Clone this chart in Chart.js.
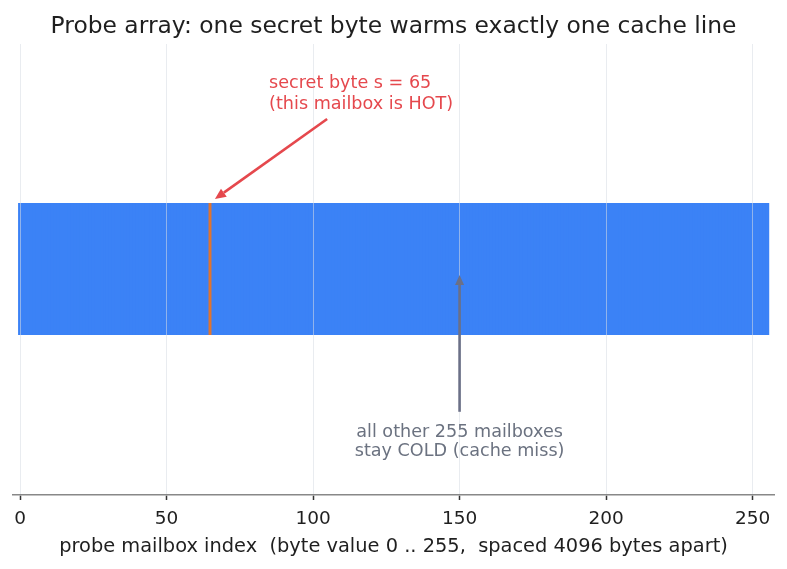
<!DOCTYPE html>
<html lang="en">
<head>
  <meta charset="UTF-8">
  <title>Probe array</title>
  <script src="https://cdn.jsdelivr.net/npm/chart.js"></script>
  <style>
    body { margin: 0; background: #fff; }
    canvas { display: block; }
  </style>
</head>
<body>
  <canvas id="grafico" width="787" height="569"></canvas>

<script>
  // dados
  const mailboxIndex = Array.from({ length: 256 }, (_, i) => i);   // 0 .. 255
  const secretByte = 65;
  const bandHeight = mailboxIndex.map(() => 1);                      // cada mailbox = 1 faixa
  const tickValues = [0, 50, 100, 150, 200, 250];

  const titulo = 'Probe array: one secret byte warms exactly one cache line';
  const tituloEixoX = 'probe mailbox index  (byte value 0 .. 255,  spaced 4096 bytes apart)';
  const notaQuente = ['secret byte s = 65', '(this mailbox is HOT)'];
  const notaFria = ['all other 255 mailboxes', 'stay COLD (cache miss)'];

  const AZUL = '#3b82f6';
  const LARANJA = '#e0742f';
  const VERMELHO = '#e5484d';
  const CINZA = '#6b7280';

  const fonte = "'DejaVu Sans', sans-serif";

  function seta(ctx, x1, y1, x2, y2, cor, larg, cab) {
    const ang = Math.atan2(y2 - y1, x2 - x1);
    const bx = x2 - cab * Math.cos(ang);
    const by = y2 - cab * Math.sin(ang);
    ctx.save();
    ctx.strokeStyle = cor;
    ctx.fillStyle = cor;
    ctx.lineWidth = larg;
    ctx.beginPath();
    ctx.moveTo(x1, y1);
    ctx.lineTo(bx, by);
    ctx.stroke();
    ctx.beginPath();
    ctx.moveTo(x2, y2);
    ctx.lineTo(bx + cab * 0.45 * Math.sin(ang), by - cab * 0.45 * Math.cos(ang));
    ctx.lineTo(bx - cab * 0.45 * Math.sin(ang), by + cab * 0.45 * Math.cos(ang));
    ctx.closePath();
    ctx.fill();
    ctx.restore();
  }

  // textos e setas por cima da grade
  const anotacoes = {
    id: 'anotacoes',
    afterDraw(chart) {
      const ctx = chart.ctx;
      const x = chart.scales.x;
      const y = chart.scales.y;

      // HOT
      ctx.save();
      ctx.font = '17.6px ' + fonte;
      ctx.fillStyle = VERMELHO;
      ctx.textAlign = 'left';
      ctx.textBaseline = 'middle';
      ctx.fillText(notaQuente[0], x.getPixelForValue(85), y.getPixelForValue(1.915));
      ctx.fillText(notaQuente[1], x.getPixelForValue(85), y.getPixelForValue(1.76));
      ctx.restore();
      seta(ctx, x.getPixelForValue(104.8), y.getPixelForValue(1.645),
        x.getPixelForValue(66.5), y.getPixelForValue(1.034), VERMELHO, 2.6, 11);

      // COLD
      ctx.save();
      ctx.font = '17.6px ' + fonte;
      ctx.fillStyle = CINZA;
      ctx.textAlign = 'center';
      ctx.textBaseline = 'middle';
      ctx.fillText(notaFria[0], x.getPixelForValue(150), y.getPixelForValue(-0.748));
      ctx.fillText(notaFria[1], x.getPixelForValue(150), y.getPixelForValue(-0.896));
      ctx.restore();
      seta(ctx, x.getPixelForValue(150), y.getPixelForValue(-0.59),
        x.getPixelForValue(150), y.getPixelForValue(0.454), '#6b7087', 2.6, 10);
    }
  };

  new Chart(document.getElementById('grafico'), {
    type: 'bar',
    data: {
      datasets: [{
        data: mailboxIndex.map((i) => ({ x: i, y: bandHeight[i] })),
        backgroundColor: mailboxIndex.map((i) => i === secretByte ? LARANJA : AZUL),
        borderWidth: 0,
        inflateAmount: 0.5,
        barPercentage: 1,
        categoryPercentage: 1
      }]
    },
    options: {
      responsive: false,
      animation: false,
      layout: { padding: { left: 13, right: 13, top: 0, bottom: 14 } },
      plugins: {
        legend: { display: false },
        tooltip: { enabled: false },
        title: {
          display: true,
          text: titulo,
          color: '#1f1f1f',
          font: { family: fonte, size: 23.4, weight: 'normal', lineHeight: '28px' },
          padding: { top: 13, bottom: 3 }
        }
      },
      scales: {
        x: {
          type: 'linear',
          min: -2.4,
          max: 257.3,
          offset: false,
          afterBuildTicks(scale) {
            scale.ticks = tickValues.map((v) => ({ value: v }));
          },
          ticks: {
            color: '#1f1f1f',
            font: { family: fonte, size: 18.5, lineHeight: '22px' },
            padding: 8,
            maxRotation: 0
          },
          grid: {
            offset: false,
            z: 1,
            color: 'rgba(215, 220, 228, 0.55)',
            lineWidth: 1,
            tickLength: 5,
            tickColor: '#333',
            tickWidth: 1.5
          },
          border: { color: '#888', width: 1.6, z: 2 },
          title: {
            display: true,
            text: tituloEixoX,
            color: '#1f1f1f',
            font: { family: fonte, size: 19.4, lineHeight: '17px' },
            padding: { top: 0, bottom: 0 }
          }
        },
        y: {
          display: false,
          min: -1.2252,
          max: 2.2176
        }
      }
    },
    plugins: [anotacoes]
  });
</script>
</body>
</html>
